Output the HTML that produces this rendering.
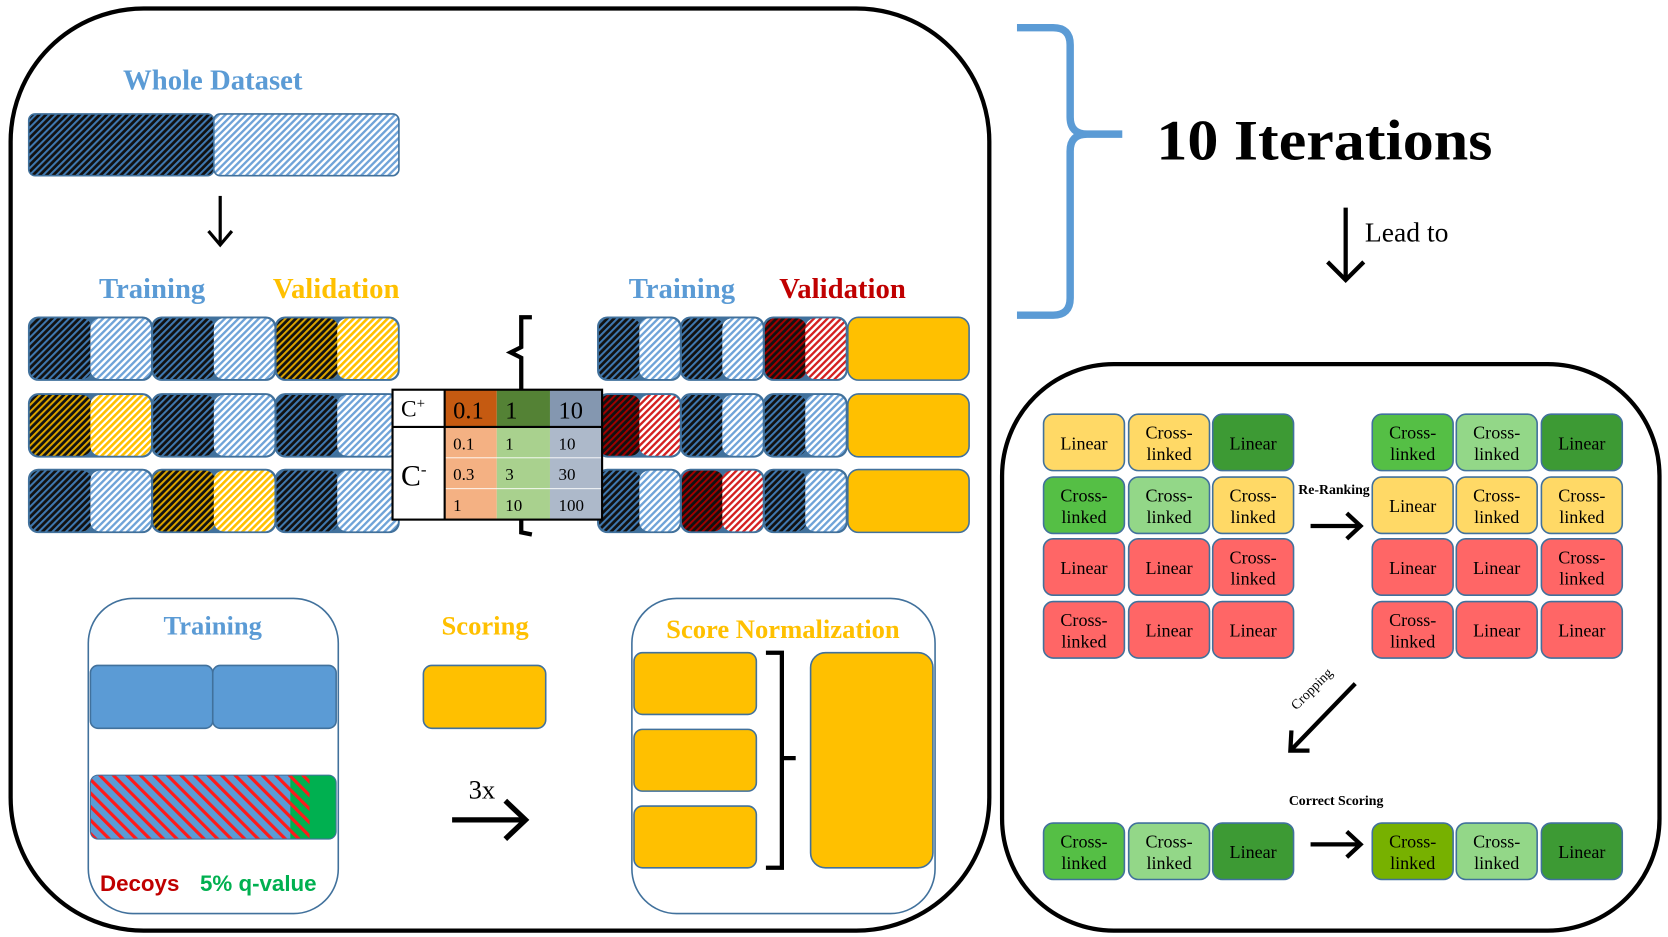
<!DOCTYPE html>
<html><head><meta charset="utf-8">
<style>
html,body{margin:0;padding:0;background:#fff;width:1668px;height:937px;overflow:hidden}
svg{display:block}
.serif{font-family:"Liberation Serif",serif}
.sans{font-family:"Liberation Sans",sans-serif}
</style></head>
<body>
<svg id="fig" width="1668" height="937" viewBox="0 0 1568 880" preserveAspectRatio="none" xmlns="http://www.w3.org/2000/svg">
<defs>
<pattern id="pDarkBlue" width="4.5" height="4.5" patternUnits="userSpaceOnUse" patternTransform="rotate(45)"><rect width="4.5" height="4.5" fill="#111"/><rect width="1.9" height="4.5" fill="#3f78b0"/></pattern>
<pattern id="pLightBlue" width="4.5" height="4.5" patternUnits="userSpaceOnUse" patternTransform="rotate(45)"><rect width="4.5" height="4.5" fill="#fff"/><rect width="2.2" height="4.5" fill="#6fa3d8"/></pattern>
<pattern id="pDarkYel" width="4.5" height="4.5" patternUnits="userSpaceOnUse" patternTransform="rotate(45)"><rect width="4.5" height="4.5" fill="#111"/><rect width="1.9" height="4.5" fill="#d9a300"/></pattern>
<pattern id="pLightYel" width="4.5" height="4.5" patternUnits="userSpaceOnUse" patternTransform="rotate(45)"><rect width="4.5" height="4.5" fill="#fff"/><rect width="2.5" height="4.5" fill="#ffc000"/></pattern>
<pattern id="pDarkRed" width="4.5" height="4.5" patternUnits="userSpaceOnUse" patternTransform="rotate(45)"><rect width="4.5" height="4.5" fill="#111"/><rect width="1.9" height="4.5" fill="#a00000"/></pattern>
<pattern id="pLightRed" width="4.5" height="4.5" patternUnits="userSpaceOnUse" patternTransform="rotate(45)"><rect width="4.5" height="4.5" fill="#fff"/><rect width="2.2" height="4.5" fill="#d42020"/></pattern>
<pattern id="pDecoy" width="9" height="9" patternUnits="userSpaceOnUse" patternTransform="rotate(-45)"><rect width="9" height="9" fill="#5b9bd5"/><rect width="3" height="9" fill="#ff1a1a"/></pattern>
<pattern id="pDecoyGreen" width="9" height="9" patternUnits="userSpaceOnUse" patternTransform="rotate(-45)"><rect width="9" height="9" fill="#00b050"/><rect width="3" height="9" fill="#ff1a1a"/></pattern>
</defs>

<rect x="10" y="8" width="920" height="866" rx="125" ry="125" fill="none" stroke="#000" stroke-width="4"/>
<text class="serif" x="200" y="84" font-size="27" font-weight="bold" fill="#5b9bd5" text-anchor="middle">Whole Dataset</text>
<g>
<rect x="27" y="107" width="174" height="58" rx="6" fill="url(#pDarkBlue)" stroke="#41719c" stroke-width="1.5"/>
<rect x="201" y="107" width="174" height="58" rx="6" fill="url(#pLightBlue)" stroke="#41719c" stroke-width="1.5"/>
</g>
<g stroke="#000" stroke-width="3" fill="none"><line x1="207" y1="184" x2="207" y2="229"/><polyline points="196,217 207,230 218,217"/></g>

<text class="serif" x="143" y="280" font-size="27" font-weight="bold" fill="#5b9bd5" text-anchor="middle">Training</text>
<text class="serif" x="316" y="280" font-size="27" font-weight="bold" fill="#ffc000" text-anchor="middle">Validation</text>
<text class="serif" x="641" y="280" font-size="27" font-weight="bold" fill="#5b9bd5" text-anchor="middle">Training</text>
<text class="serif" x="792" y="280" font-size="27" font-weight="bold" fill="#c00000" text-anchor="middle">Validation</text>

<g id="folds"></g>

<path d="M500,298 L490,298 L490,326 L480,331 L490,336 L490,500 L500,502" fill="none" stroke="#000" stroke-width="4"/>

<g class="serif">
<rect x="369" y="366" width="49" height="122" fill="#fff"/>
<rect x="418" y="366" width="49" height="35" fill="#c55a11"/>
<rect x="467" y="366" width="50" height="35" fill="#548235"/>
<rect x="517" y="366" width="49" height="35" fill="#8497b0"/>
<rect x="418" y="401" width="49" height="87" fill="#f4b183"/>
<rect x="467" y="401" width="50" height="87" fill="#a9d18e"/>
<rect x="517" y="401" width="49" height="87" fill="#adb9ca"/>
<line x1="418" y1="430" x2="566" y2="430" stroke="#fff" stroke-width="0.8"/>
<line x1="418" y1="459" x2="566" y2="459" stroke="#fff" stroke-width="0.8"/>
<rect x="369" y="366" width="197" height="122" fill="none" stroke="#000" stroke-width="2"/>
<line x1="369" y1="401" x2="566" y2="401" stroke="#000" stroke-width="2"/>
<line x1="418" y1="366" x2="418" y2="488" stroke="#000" stroke-width="2"/>
<text x="377" y="391" font-size="22">C<tspan font-size="14" dy="-8">+</tspan></text>
<text x="426" y="393" font-size="23">0.1</text>
<text x="475" y="393" font-size="23">1</text>
<text x="525" y="393" font-size="23">10</text>
<text x="377" y="456" font-size="28">C<tspan font-size="16" dy="-10">-</tspan></text>
<text x="426" y="422" font-size="16">0.1</text><text x="475" y="422" font-size="16">1</text><text x="525" y="422" font-size="16">10</text>
<text x="426" y="451" font-size="16">0.3</text><text x="475" y="451" font-size="16">3</text><text x="525" y="451" font-size="16">30</text>
<text x="426" y="480" font-size="16">1</text><text x="475" y="480" font-size="16">10</text><text x="525" y="480" font-size="16">100</text>
</g>

<rect x="83" y="562" width="235" height="296" rx="42" fill="none" stroke="#41719c" stroke-width="1.5"/>
<text class="serif" x="200" y="596" font-size="25" font-weight="bold" fill="#5b9bd5" text-anchor="middle">Training</text>
<rect x="85" y="625" width="115" height="59" rx="7" fill="#5b9bd5" stroke="#41719c" stroke-width="1.5"/>
<rect x="200" y="625" width="116" height="59" rx="7" fill="#5b9bd5" stroke="#41719c" stroke-width="1.5"/>
<g>
<rect x="85" y="728" width="231" height="60" rx="7" fill="#00b050"/>
<path d="M92,728 L273,728 L273,788 L92,788 Q85,788 85,781 L85,735 Q85,728 92,728Z" fill="url(#pDecoy)"/>
<rect x="273" y="728" width="18" height="60" fill="url(#pDecoyGreen)"/>
<rect x="85" y="728" width="231" height="60" rx="7" fill="none" stroke="#41719c" stroke-width="1"/>
</g>
<text class="sans" x="94" y="837" font-size="21" font-weight="bold" fill="#c00000">Decoys</text>
<text class="sans" x="188" y="837" font-size="21" font-weight="bold" fill="#00b050">5% q-value</text>

<text class="serif" x="456" y="596" font-size="25" font-weight="bold" fill="#ffc000" text-anchor="middle">Scoring</text>
<rect x="398" y="625" width="115" height="59" rx="8" fill="#ffc000" stroke="#41719c" stroke-width="1.5"/>
<text class="serif" x="453" y="750" font-size="25" text-anchor="middle">3x</text>
<g stroke="#000" stroke-width="5" fill="none"><line x1="425" y1="770" x2="494" y2="770"/><polyline points="475,752 494,770 475,788"/></g>

<rect x="594" y="562" width="285" height="296" rx="42" fill="none" stroke="#41719c" stroke-width="1.5"/>
<text class="serif" x="736" y="599" font-size="25" font-weight="bold" fill="#ffc000" text-anchor="middle">Score Normalization</text>
<rect x="596" y="613" width="115" height="58" rx="8" fill="#ffc000" stroke="#41719c" stroke-width="1.5"/>
<rect x="596" y="685" width="115" height="58" rx="8" fill="#ffc000" stroke="#41719c" stroke-width="1.5"/>
<rect x="596" y="757" width="115" height="58" rx="8" fill="#ffc000" stroke="#41719c" stroke-width="1.5"/>
<path d="M720,613 L735,613 L735,815 L720,815 M735,712 L748,712" fill="none" stroke="#000" stroke-width="4"/>
<rect x="762" y="613" width="115" height="202" rx="14" fill="#ffc000" stroke="#41719c" stroke-width="1.5"/>

<path d="M956,26 L990,26 Q1006,26 1006,42 L1006,110 Q1006,126 1022,126 L1055,126 M1022,126 Q1006,126 1006,142 L1006,280 Q1006,296 990,296 L956,296" fill="none" stroke="#5b9bd5" stroke-width="7"/>
<text class="serif" x="1087" y="150" font-size="54" font-weight="bold" textLength="316" lengthAdjust="spacingAndGlyphs">10 Iterations</text>
<g stroke="#000" stroke-width="4" fill="none"><line x1="1265" y1="195" x2="1265" y2="262"/><polyline points="1248,246 1265,263 1282,246"/></g>
<text class="serif" x="1283" y="227" font-size="26">Lead to</text>

<rect x="942" y="342" width="618" height="532" rx="105" fill="none" stroke="#000" stroke-width="4"/>
<g id="grid" class="serif"></g>
<text class="serif" x="1254" y="464" font-size="13" font-weight="bold" text-anchor="middle">Re-Ranking</text>
<g stroke="#000" stroke-width="4" fill="none"><line x1="1232" y1="494" x2="1278" y2="494"/><polyline points="1266,482 1279,494 1266,506"/></g>
<text class="serif" x="1236" y="650" font-size="13" text-anchor="middle" transform="rotate(-45 1236 650)">Cropping</text>
<g stroke="#000" stroke-width="4" fill="none"><line x1="1274" y1="642" x2="1214" y2="704"/><polyline points="1214,686 1213,705 1231,705"/></g>
<text class="serif" x="1256" y="756" font-size="13" font-weight="bold" text-anchor="middle">Correct Scoring</text>
<g stroke="#000" stroke-width="4" fill="none"><line x1="1232" y1="793" x2="1278" y2="793"/><polyline points="1266,781 1279,793 1266,805"/></g>
</svg>
<script>
var NS='http://www.w3.org/2000/svg';
var leftRows=[['B','B','Y'],['Y','B','B'],['B','Y','B']];
var rightRows=[['B','B','R'],['R','B','B'],['B','R','B']];
var rowY=[298,370,441];
var darkFill={B:'url(#pDarkBlue)',Y:'url(#pDarkYel)',R:'url(#pDarkRed)'};
var lightFill={B:'url(#pLightBlue)',Y:'url(#pLightYel)',R:'url(#pLightRed)'};
var folds=document.getElementById('folds');
function rect(parent,x,y,w,h,rx,fill,stroke){
  var r=document.createElementNS(NS,'rect');
  r.setAttribute('x',x);r.setAttribute('y',y);r.setAttribute('width',w);r.setAttribute('height',h);
  r.setAttribute('rx',rx);r.setAttribute('fill',fill);
  if(stroke){r.setAttribute('stroke',stroke);r.setAttribute('stroke-width','1.5');}
  parent.appendChild(r);return r;
}
function drawFold(x0,bw,rows,side){
  rows.forEach(function(row,ri){
    row.forEach(function(k,ci){
      var x=x0+ci*bw,y=rowY[ri];
      var g=document.createElementNS(NS,'g');
      
      
      rect(g,x,y,bw,59,9,'#41719c',null);
      rect(g,x+1,y+1,bw/2,57,9,darkFill[k],null);
      rect(g,x+bw/2,y+1,bw/2-1,57,9,lightFill[k],null);
      rect(g,x,y,bw,59,9,'none','#41719c');
      folds.appendChild(g);
    });
    if(side==='right'){
      var s=document.createElementNS(NS,'rect');
      
      
      s.setAttribute('x',797);s.setAttribute('y',rowY[ri]);s.setAttribute('width',114);s.setAttribute('height',59);
      s.setAttribute('rx',10);s.setAttribute('fill','#ffc000');s.setAttribute('stroke','#41719c');s.setAttribute('stroke-width','1.5');
      folds.appendChild(s);
    }
  });
}
drawFold(27,116,leftRows,'left');
drawFold(562,78,rightRows,'right');

var colors={Y:'#ffd966',G:'#55bf45',L:'#93d788',D:'#3d9a34',R:'#ff6666',M:'#77b100'};
var gridLeft=[['Linear','Y'],['Cross','Y'],['Linear','D'],['Cross','G'],['Cross','L'],['Cross','Y'],['Linear','R'],['Linear','R'],['Cross','R'],['Cross','R'],['Linear','R'],['Linear','R']];
var gridRight=[['Cross','G'],['Cross','L'],['Linear','D'],['Linear','Y'],['Cross','Y'],['Cross','Y'],['Linear','R'],['Linear','R'],['Cross','R'],['Cross','R'],['Linear','R'],['Linear','R']];
var bottomLeft=[['Cross','G'],['Cross','L'],['Linear','D']];
var bottomRight=[['Cross','M'],['Cross','L'],['Linear','D']];
var grid=document.getElementById('grid');
function cell(x,y,item){
  var g=document.createElementNS(NS,'g');
  
  
  rect(g,x,y,76,53,9,colors[item[1]],'#41719c');
  var lines=item[0]==='Linear'?['Linear']:['Cross-','linked'];
  lines.forEach(function(t,i){
    var tx=document.createElementNS(NS,'text');
    tx.setAttribute('x',x+38);
    tx.setAttribute('y',lines.length===1?y+33:y+23+i*20);
    tx.setAttribute('font-size','17');
    tx.setAttribute('text-anchor','middle');
    tx.textContent=t;
    g.appendChild(tx);
  });
  grid.appendChild(g);
}
var colsL=[981,1061,1140],colsR=[1290,1369,1449],rowsG=[389,448,506,565];
gridLeft.forEach(function(it,i){cell(colsL[i%3],rowsG[Math.floor(i/3)],it);});
gridRight.forEach(function(it,i){cell(colsR[i%3],rowsG[Math.floor(i/3)],it);});
bottomLeft.forEach(function(it,i){cell(colsL[i],773,it);});
bottomRight.forEach(function(it,i){cell(colsR[i],773,it);});
</script>
</body></html>
